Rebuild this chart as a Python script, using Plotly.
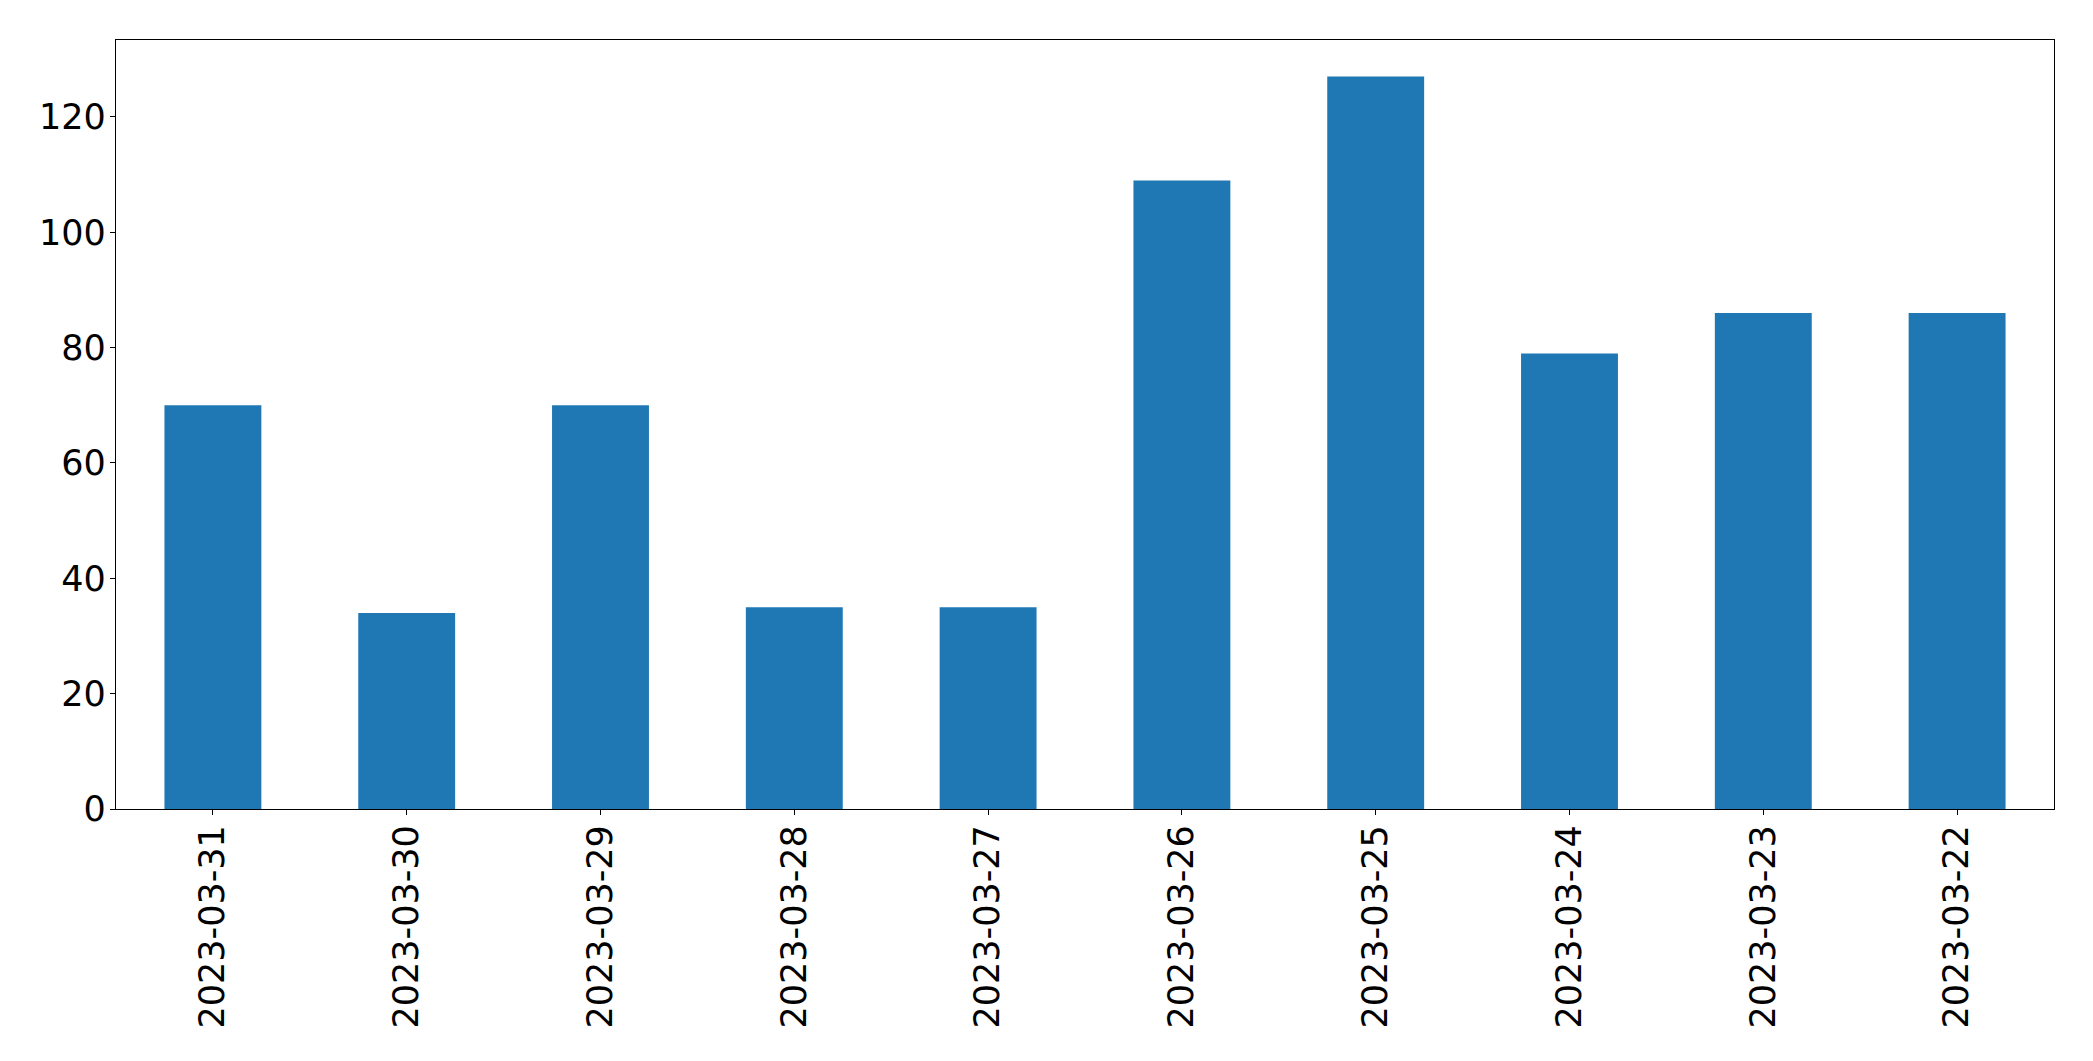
import plotly.graph_objects as go

dates = ["2023-03-31", "2023-03-30", "2023-03-29", "2023-03-28", "2023-03-27",
         "2023-03-26", "2023-03-25", "2023-03-24", "2023-03-23", "2023-03-22"]
counts = [70, 34, 70, 35, 35, 109, 127, 79, 86, 86]
y_ticks = [0, 20, 40, 60, 80, 100, 120]

fig = go.Figure(go.Bar(x=dates, y=counts, marker=dict(color="#1f77b4", line=dict(width=0))))

axis_common = dict(
    showline=True, linecolor="black", linewidth=1.3, mirror=True,
    ticks="outside", ticklen=5, tickwidth=1.3, tickcolor="black",
    showgrid=False, zeroline=False,
    tickfont=dict(family="DejaVu Sans", size=35, color="black"),
)

fig.update_layout(
    width=2085, height=1053,
    margin=dict(l=108, r=39, t=32, b=252, autoexpand=False),
    plot_bgcolor="white", paper_bgcolor="white",
    bargap=0.5,
    showlegend=False,
    xaxis=dict(type="category", range=[-0.5, 9.5], tickangle=-90, automargin=False,
               ticklabelstandoff=-4, **axis_common),
    yaxis=dict(range=[0, 133.35], tickvals=y_ticks, automargin=False,
               ticklabelstandoff=-3, **axis_common),
)

fig.write_html("out.html")
